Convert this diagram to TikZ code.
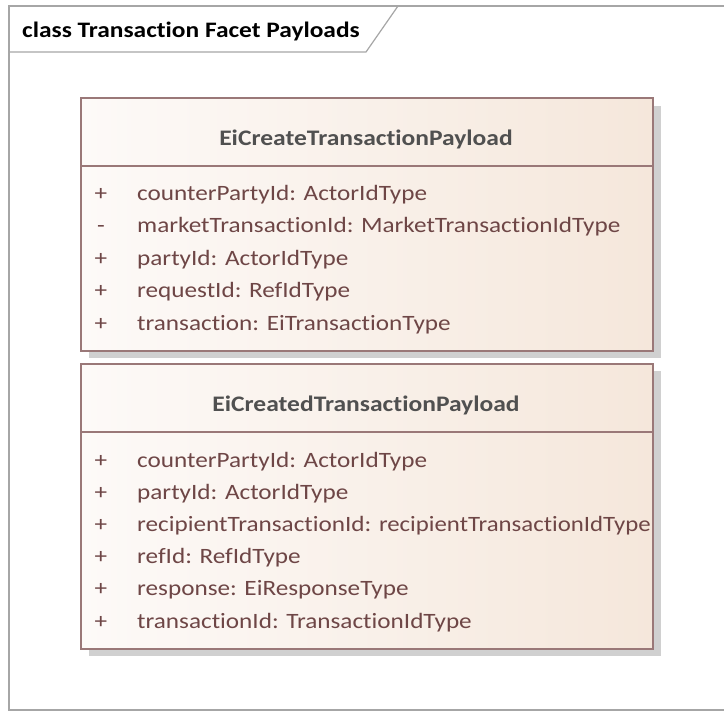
\documentclass[tikz,border=0pt]{standalone}
\usepackage{fontspec}
\setmainfont[Ligatures=NoCommon, FakeStretch=1.15]{Carlito}
\begin{document}
\begin{tikzpicture}[x=1pt,y=-1pt]
\definecolor{framegray}{HTML}{A6A6A6}
\definecolor{boxline}{HTML}{9A7878}
\definecolor{fillL}{HTML}{FDFAF8}
\definecolor{fillR}{HTML}{F5E7DB}
\definecolor{hdrtext}{HTML}{505050}
\definecolor{attrtext}{HTML}{6E4646}
\definecolor{shadowgray}{HTML}{D0D0D0}
\tikzset{
  classbox/.style={draw=boxline, line width=1.6pt, left color=fillL, right color=fillR, shading angle=90},
  hdr/.style={font=\fontsize{22.2}{26}\selectfont\bfseries, text=hdrtext, anchor=base, inner sep=0pt},
  attr/.style={font=\fontsize{21.9}{26}\selectfont, text=attrtext, anchor=base west, inner sep=0pt},
  vis/.style={font=\fontsize{21.9}{26}\selectfont, text=attrtext, anchor=base, inner sep=0pt},
  sep/.style={draw=boxline, line width=1.6pt},
}
\useasboundingbox (0,0) rectangle (724,715);
\fill[white] (0,0) rectangle (724,715);

% diagram frame with its name tab
\draw[framegray, line width=1.4pt] (730,6) -- (9,6) -- (9,710) -- (730,710);
\draw[framegray, line width=1.2pt] (9,52) -- (366,52) -- (398,6);
\node[font=\fontsize{22.1}{26}\selectfont\bfseries, anchor=base west, inner sep=0pt] (title) at (22,37) {class Transaction Facet Payloads};

% EiCreateTransactionPayload
\fill[shadowgray] (89,106) rectangle (661,358);
\path[classbox] (81,98) rectangle (653,351);
\coordinate (c1l) at (81,166);
\coordinate (c1r) at (653,166);
\draw[sep] (c1l) -- (c1r);
\node[hdr] (c1name) at (366,145) {EiCreateTransactionPayload};
\foreach \v/\t [count=\i from 0] in {+/counterPartyId: ActorIdType,-/marketTransactionId: MarketTransactionIdType,+/partyId: ActorIdType,+/requestId: RefIdType,+/transaction: EiTransactionType}{
  \node[vis] (c1v\i) at (101,200+32.5*\i) {\v};
  \node[attr] (c1a\i) at (137,200+32.5*\i) {\t};
}

% EiCreatedTransactionPayload
\fill[shadowgray] (89,371) rectangle (661,656);
\path[classbox] (81,364) rectangle (653,649);
\coordinate (c2l) at (81,432);
\coordinate (c2r) at (653,432);
\draw[sep] (c2l) -- (c2r);
\node[hdr] (c2name) at (366,411) {EiCreatedTransactionPayload};
\foreach \v/\t [count=\i from 0] in {+/counterPartyId: ActorIdType,+/partyId: ActorIdType,+/recipientTransactionId: \scalebox{0.985}[1]{recipientTransactionIdType},+/refId: RefIdType,+/response: EiResponseType,+/transactionId: TransactionIdType}{
  \node[vis] (c2v\i) at (101,467+32.2*\i) {\v};
  \node[attr] (c2a\i) at (137,467+32.2*\i) {\t};
}
\end{tikzpicture}
\end{document}
